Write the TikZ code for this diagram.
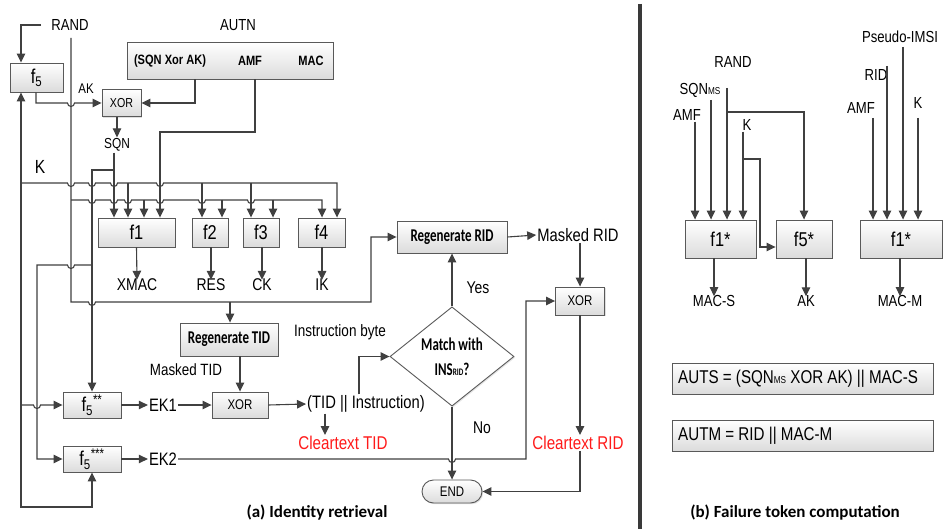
\documentclass[tikz,border=0pt]{standalone}
\usepackage{fontspec}
\setmainfont{Liberation Sans}[FakeStretch=0.82]
\newfontfamily\calf{Carlito}[FakeStretch=0.72]
\newfontfamily\capf{Carlito}
\usetikzlibrary{arrows.meta,shapes.geometric,shadows}
\definecolor{lc}{HTML}{404040}
\definecolor{bc}{HTML}{595959}
\definecolor{rd}{HTML}{FF1A1A}
\newcommand\fsz[1]{\fontsize{#1}{#1}\selectfont}
\newcommand\hop[2]{-- ({#1-3.5},#2) arc[start angle=180,end angle=360,radius=3.5pt]}
\newcommand\hopl[2]{-- ({#1+3.5},#2) arc[start angle=0,end angle=-180,radius=3.5pt]}
\newcommand\smallsub[1]{{\fsz{10}#1}}
\begin{document}
\begin{tikzpicture}[x=1pt,y=-1pt,
  w/.style={draw=lc,line width=1.1pt},
  arr/.style={w,-{Triangle[length=9pt,width=8.5pt]}},
  box/.style={draw=bc,line width=0.9pt,top color=white,bottom color=gray!28,inner sep=0pt,
    drop shadow={opacity=0.25,shadow xshift=1.2pt,shadow yshift=-1.2pt}},
  t/.style={inner sep=1pt,text=black},
]
\fill[white] (0,0) rectangle (944,529);
\useasboundingbox (0,0) rectangle (944,529);

% ---------------- (a) nodes
\node[t,font=\fsz{16}] (rand) at (70,25) {RAND};
\node[t,font=\fsz{16}] (autnT) at (238,25) {AUTN};
\node[box,minimum width=206pt,minimum height=37pt] (autn) at (230,60.5) {};
\node[t,font=\fsz{13.5}\bfseries] (sxa) at (170,61) {(SQN Xor AK)};
\node[t,font=\fsz{13.5}\bfseries] (amfa) at (250,61) {AMF};
\node[t,font=\fsz{13.5}\bfseries] (maca) at (311,61) {MAC};
\node[box,minimum width=53pt,minimum height=29pt,font=\fsz{20}] (f5) at (36.5,77.5) {f\textsubscript{5}};
\node[box,minimum width=39pt,minimum height=27pt,font=\fsz{13}] (xor1) at (121.5,103) {XOR};
\node[t,font=\fsz{14}] (ak) at (86,89) {AK};
\node[t,font=\fsz{14.5}] (sqn) at (117,145) {SQN};
\node[t,font=\fsz{19}] (k) at (40,167) {K};

\node[box,minimum width=77pt,minimum height=29pt,font=\fsz{20}] (f1) at (136.5,232.5) {f1};
\node[box,minimum width=36pt,minimum height=29pt,font=\fsz{20}] (f2) at (210,232.5) {f2};
\node[box,minimum width=36pt,minimum height=29pt,font=\fsz{20}] (f3) at (261,232.5) {f3};
\node[box,minimum width=47pt,minimum height=29pt,font=\fsz{20}] (f4) at (321.5,232.5) {f4};
\node[t,font=\fsz{17}] (xmac) at (137,285) {XMAC};
\node[t,font=\fsz{17}] (res) at (211,285) {RES};
\node[t,font=\fsz{17}] (ck) at (262,285) {CK};
\node[t,font=\fsz{17}] (ik) at (322,285) {IK};

\node[box,minimum width=98pt,minimum height=33pt,font=\calf\fsz{18}\bfseries] (rtid) at (229,339.5) {Regenerate TID};
\node[t,font=\fsz{16.3}] (mtid) at (186,370) {Masked TID};
\node[box,minimum width=58pt,minimum height=26pt,font=\fsz{20}] (f5s2) at (92,405) {f\textsubscript{5}\textsuperscript{**}};
\node[box,minimum width=58pt,minimum height=26pt,font=\fsz{20}] (f5s3) at (92,459) {f\textsubscript{5}\textsuperscript{***}};
\node[t,font=\fsz{18}] (ek1) at (163,405) {EK1};
\node[t,font=\fsz{18}] (ek2) at (163,459) {EK2};
\node[box,minimum width=56pt,minimum height=26pt,font=\fsz{14}] (xor2) at (240,405) {XOR};
\node[t,font=\fsz{18}] (tid) at (366,404) {(TID || Instruction)};
\node[t,font=\fsz{18.5},text=rd] (cltid) at (343,443) {Cleartext TID};
\node[t,font=\fsz{16.5}] (ib) at (340,332) {Instruction byte};
\node[diamond,draw=bc,line width=0.9pt,fill=white,minimum width=124pt,minimum height=93pt,inner sep=0pt,
  font=\calf\fontsize{18}{25}\selectfont\bfseries,align=center,
  drop shadow={opacity=0.2,shadow xshift=1.2pt,shadow yshift=-1.2pt}] (dia) at (452,356.5) {Match with\\INS\smallsub{RID}?};
\node[box,minimum width=110pt,minimum height=32pt,font=\calf\fsz{18}\bfseries] (rrid) at (452,237) {Regenerate RID};
\node[t,font=\fsz{18}] (mrid) at (578,235) {Masked RID};
\node[box,minimum width=49pt,minimum height=28pt,font=\fsz{14}] (xor3) at (580,301) {XOR};
\node[t,font=\fsz{18.5},text=rd] (clrid) at (578,443) {Cleartext RID};
\node[t,font=\fsz{17}] (yes) at (478,288) {Yes};
\node[t,font=\fsz{17}] (no) at (482,428) {No};
\node[box,rounded corners=11.5pt,minimum width=60pt,minimum height=23pt,font=\fsz{14}] (end) at (452,491.5) {END};
\node[t,font=\capf\fsz{17}\bfseries] (capa) at (317,513) {(a) Identity retrieval};

% ---------------- (a) connectors
\draw[arr] ([xshift=-9pt]rand.west) -- (21,25) -- (21,0 |- f5.north);
\draw[arr] (71,38) -- (71,302) \hop{92}{302} -- (371,302) -- (371,0 |- rrid.west) -- (rrid.west);
\draw[arr] (230,302) -- (230,0 |- rtid.north);
% RAND bus
\draw[arr] (71,200) \hop{92}{200} \hop{114}{200} \hop{128}{200} \hop{160}{200} \hop{202}{200} \hop{251}{200} -- (322,200) -- (322,0 |- f4.north);
\draw[arr] (144,200) -- (144,0 |- f1.north);
\draw[arr] (222,200) -- (222,0 |- f2.north);
\draw[arr] (273,200) -- (273,0 |- f3.north);
% K
\draw[w,{Triangle[length=9pt,width=8.5pt]}-{Triangle[length=9pt,width=8.5pt]}] (21,0 |- f5.south) -- (21,507) -- (92,507) -- (f5s3.south);
\draw[arr] (21,183) \hop{71}{183} \hop{92}{183} \hop{114}{183} \hop{160}{183} -- (337,183) -- (337,0 |- f4.north);
\draw[arr] (128,183) -- (128,0 |- f1.north);
\draw[arr] (202,183) -- (202,0 |- f2.north);
\draw[arr] (251,183) -- (251,0 |- f3.north);
\draw[arr] (21,405) \hop{37}{405} -- (f5s2.west);
% AK / XOR
\draw[arr] (36,0 |- f5.south) -- (36,103) \hop{71}{103} -- (xor1.west);
\draw[arr] (195,0 |- autn.south) -- (195,103) -- (xor1.east);
\draw[arr] (117,0 |- xor1.south) -- (117,0 |- sqn.north);
% SQN
\draw[arr] (114,0 |- sqn.south) -- (114,0 |- f1.north);
\draw[arr] (114,170) -- (92,170) -- (f5s2.north);
\draw[arr] (92,265) \hopl{71}{265} -- (37,265) -- (37,459) -- (f5s3.west);
% AMF
\draw[arr] (255,0 |- autn.south) -- (255,132) -- (160,132) -- (160,0 |- f1.north);
% f outputs
\draw[arr] (f1.south) -- ([yshift=-2pt]xmac.north);
\draw[arr] (211,0 |- f2.south) -- ([yshift=-2pt]res.north);
\draw[arr] (262,0 |- f3.south) -- ([yshift=-2pt]ck.north);
\draw[arr] (322,0 |- f4.south) -- ([yshift=-2pt]ik.north);
% lower flow
\draw[arr] (240,0 |- rtid.south) -- (xor2.north);
\draw[arr] (f5s2.east) -- (ek1.west);
\draw[arr] (ek1.east) -- (xor2.west);
\draw[arr] (xor2.east) -- (tid.west);
\draw[arr] (f5s3.east) -- (ek2.west);
\draw[arr] (ek2.east) \hop{452}{459} -- (526,459) -- (526,301) -- (xor3.west);
\draw[arr] (325,0 |- tid.south) -- (325,0 |- cltid.north);
\draw[arr] (359,0 |- tid.north) -- (359,356.5) -- (dia.west);
\draw[arr] (dia.north) -- (rrid.south);
\draw[arr] (dia.south) -- (end.north);
\draw[arr] (rrid.east) -- (mrid.west);
\draw[arr] (580,0 |- mrid.south) -- (xor3.north);
\draw[arr] (xor3.south) -- (580,0 |- clrid.north);
\draw[arr] (580,0 |- clrid.south) -- (580,491.5) -- (end.east);

% separator
\draw[line width=3.5pt,draw=gray!45!black] (640,4) -- (640,529);

% ---------------- (b)
\node[t,font=\fsz{16}] (amf1) at (687,115) {AMF};
\node[t,font=\fsz{16}] (sqnms) at (700,90) {SQN\smallsub{MS}};
\node[t,font=\fsz{16}] (rand2) at (733,62) {RAND};
\node[t,font=\fsz{16}] (k2) at (747,125) {K};
\node[box,minimum width=71pt,minimum height=38pt,font=\fsz{20}] (f1a) at (720.5,239) {f1*};
\node[box,minimum width=56pt,minimum height=38pt,font=\fsz{20}] (f5b) at (804,239) {f5*};
\node[box,minimum width=82pt,minimum height=38pt,font=\fsz{20}] (f1b) at (901,239) {f1*};
\node[t,font=\fsz{16}] (macs) at (714,301) {MAC-S};
\node[t,font=\fsz{16}] (ak2) at (806,301) {AK};
\node[t,font=\fsz{16}] (macm) at (900,301) {MAC-M};
\node[t,font=\fsz{16}] (pimsi) at (900,37) {Pseudo-IMSI};
\node[t,font=\fsz{16}] (rid) at (876,75) {RID};
\node[t,font=\fsz{16}] (amf2) at (861,108) {AMF};
\node[t,font=\fsz{16}] (k3) at (918,103) {K};

\draw[arr] (695,0 |- amf1.south) -- (695,0 |- f1a.north);
\draw[arr] (711,100) -- (711,0 |- f1a.north);
\draw[arr] (727,88) -- (727,0 |- f1a.north);
\draw[arr] (727,112) -- (804,112) -- (f5b.north);
\draw[arr] (743,0 |- k2.south) -- (743,0 |- f1a.north);
\draw[arr] (743,159) -- (760,159) -- (760,247) -- (f5b.west |- 0,247);
\draw[arr] (714,0 |- f1a.south) -- ([yshift=-2pt]macs.north);
\draw[arr] (806,0 |- f5b.south) -- ([yshift=-2pt]ak2.north);
\draw[arr] (900,0 |- f1b.south) -- ([yshift=-2pt]macm.north);
\draw[arr] (873,118) -- (873,0 |- f1b.north);
\draw[arr] (887,66) -- (887,0 |- f1b.north);
\draw[arr] (903,47) -- (903,0 |- f1b.north);
\draw[arr] (918,118) -- (918,0 |- f1b.north);

\node[box,minimum width=261pt,minimum height=31pt] (auts) at (802.5,378.5) {};
\node[t,font=\fsz{18.5},anchor=west] (autst) at (677,378.5) {AUTS = (SQN\smallsub{MS} XOR AK) || MAC-S};
\node[box,minimum width=261pt,minimum height=31pt] (autm) at (802.5,435.5) {};
\node[t,font=\fsz{18.5},anchor=west] (autmt) at (677,435.5) {AUTM = RID || MAC-M};
\node[t,font=\capf\fsz{17}\bfseries] (capb) at (795,513) {(b) Failure token computation};
\end{tikzpicture}
\end{document}
